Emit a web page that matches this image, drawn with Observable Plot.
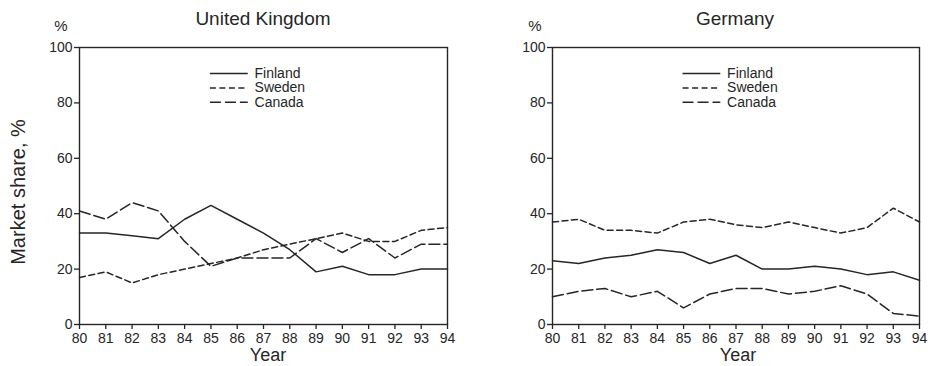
<!DOCTYPE html>
<html>
<head>
<meta charset="utf-8">
<script src="https://cdn.jsdelivr.net/npm/d3@7"></script>
<script src="https://cdn.jsdelivr.net/npm/@observablehq/plot@0.6"></script>
<style>
  html, body { margin: 0; padding: 0; background: #fff; }
  #wrap { position: relative; width: 933px; height: 366px; overflow: hidden; font-family: "Liberation Sans", Arial, sans-serif; }
  #wrap svg.plot { position: absolute; top: 0; }
  #overlay { position: absolute; left: 0; top: 0; pointer-events: none; }
</style>
</head>
<body>
<div id="wrap"></div>
<script>
// ---- data ----
const years = [80, 81, 82, 83, 84, 85, 86, 87, 88, 89, 90, 91, 92, 93, 94];
const seriesNames = ["Finland", "Sweden", "Canada"];

const ukFinland = [33, 33, 32, 31, 38, 43, 38, 33, 27, 19, 21, 18, 18, 20, 20];
const ukSweden  = [17, 19, 15, 18, 20, 22, 24, 27, 29, 31, 33, 30, 30, 34, 35];
const ukCanada  = [41, 38, 44, 41, 30, 21, 24, 24, 24, 31, 26, 31, 24, 29, 29];

const deFinland = [23, 22, 24, 25, 27, 26, 22, 25, 20, 20, 21, 20, 18, 19, 16];
const deSweden  = [37, 38, 34, 34, 33, 37, 38, 36, 35, 37, 35, 33, 35, 42, 37];
const deCanada  = [10, 12, 13, 10, 12, 6, 11, 13, 13, 11, 12, 14, 11, 4, 3];

const yTicks = [0, 20, 40, 60, 80, 100];
const panelTitles = ["United Kingdom", "Germany"];
const yLabel = "Market share, %";
const xLabel = "Year";
const unitLabel = "%";

// ---- drawing ----
const ink = "#262626";
const dashes = { Finland: null, Sweden: "6,3.5", Canada: "11,4" };
const font = "'Liberation Sans', Arial, sans-serif";

function panel(valuesList, opts) {
  const rows = [];
  seriesNames.forEach((name, k) => {
    valuesList[k].forEach((v, i) => rows.push({ year: years[i], value: v, name }));
  });
  const legend = seriesNames.map((name, i) => ({
    name, y: 90.6 - i * 5.2, x1: 84.98, x2: 86.42, tx: 86.66
  }));
  const marks = [
    Plot.frame({ stroke: ink, strokeWidth: 1.4 }),
    Plot.axisY({ ticks: yTicks, tickSize: 5, tickPadding: 2, label: null, fontSize: 14, stroke: ink, strokeWidth: 1.3, color: ink }),
    Plot.axisX({ ticks: years, tickSize: 5, tickPadding: 4, label: null, fontSize: 14, tickFormat: d => String(d), stroke: ink, strokeWidth: 1.3, color: ink }),
    ...seriesNames.map(name => Plot.lineY(rows.filter(r => r.name === name), {
      x: "year", y: "value", stroke: ink, strokeWidth: 1.5,
      strokeDasharray: dashes[name] || undefined, curve: "linear"
    })),
    ...legend.map(l => Plot.ruleY([l], {
      y: "y", x1: "x1", x2: "x2", stroke: ink, strokeWidth: 1.5,
      strokeDasharray: dashes[l.name] || undefined
    })),
    Plot.text(legend, { x: "tx", y: "y", text: "name", textAnchor: "start", fontSize: 14, fill: ink })
  ];
  const svg = Plot.plot({
    width: opts.width, height: 366,
    marginLeft: opts.ml, marginRight: opts.mr, marginTop: 47, marginBottom: 42,
    x: { domain: [80, 94], label: null },
    y: { domain: [0, 100], label: null },
    style: { fontFamily: font, fontSize: "14px", background: "transparent", color: ink },
    marks
  });
  svg.classList.add("plot");
  svg.style.left = opts.left + "px";
  return svg;
}

const wrap = document.getElementById("wrap");
wrap.appendChild(panel([ukFinland, ukSweden, ukCanada], { width: 466, ml: 79, mr: 19, left: 0 }));
wrap.appendChild(panel([deFinland, deSweden, deCanada], { width: 467, ml: 86, mr: 14, left: 466 }));

// text overlay
const ov = d3.select(wrap).append("svg").attr("id", "overlay")
  .attr("width", 933).attr("height", 366)
  .style("font-family", font).attr("fill", ink);
ov.append("text").attr("x", 263).attr("y", 25).attr("text-anchor", "middle").attr("font-size", 19).text(panelTitles[0]);
ov.append("text").attr("x", 735).attr("y", 25).attr("text-anchor", "middle").attr("font-size", 19).text(panelTitles[1]);
ov.append("text").attr("x", 61).attr("y", 31).attr("text-anchor", "middle").attr("font-size", 15).text(unitLabel);
ov.append("text").attr("x", 535).attr("y", 31).attr("text-anchor", "middle").attr("font-size", 15).text(unitLabel);
ov.append("text").attr("x", 268).attr("y", 361).attr("text-anchor", "middle").attr("font-size", 18).text(xLabel);
ov.append("text").attr("x", 738).attr("y", 361).attr("text-anchor", "middle").attr("font-size", 18).text(xLabel);
ov.append("text").attr("transform", "translate(25,192) rotate(-90)").attr("text-anchor", "middle").attr("font-size", 20).text(yLabel);
</script>
</body>
</html>
